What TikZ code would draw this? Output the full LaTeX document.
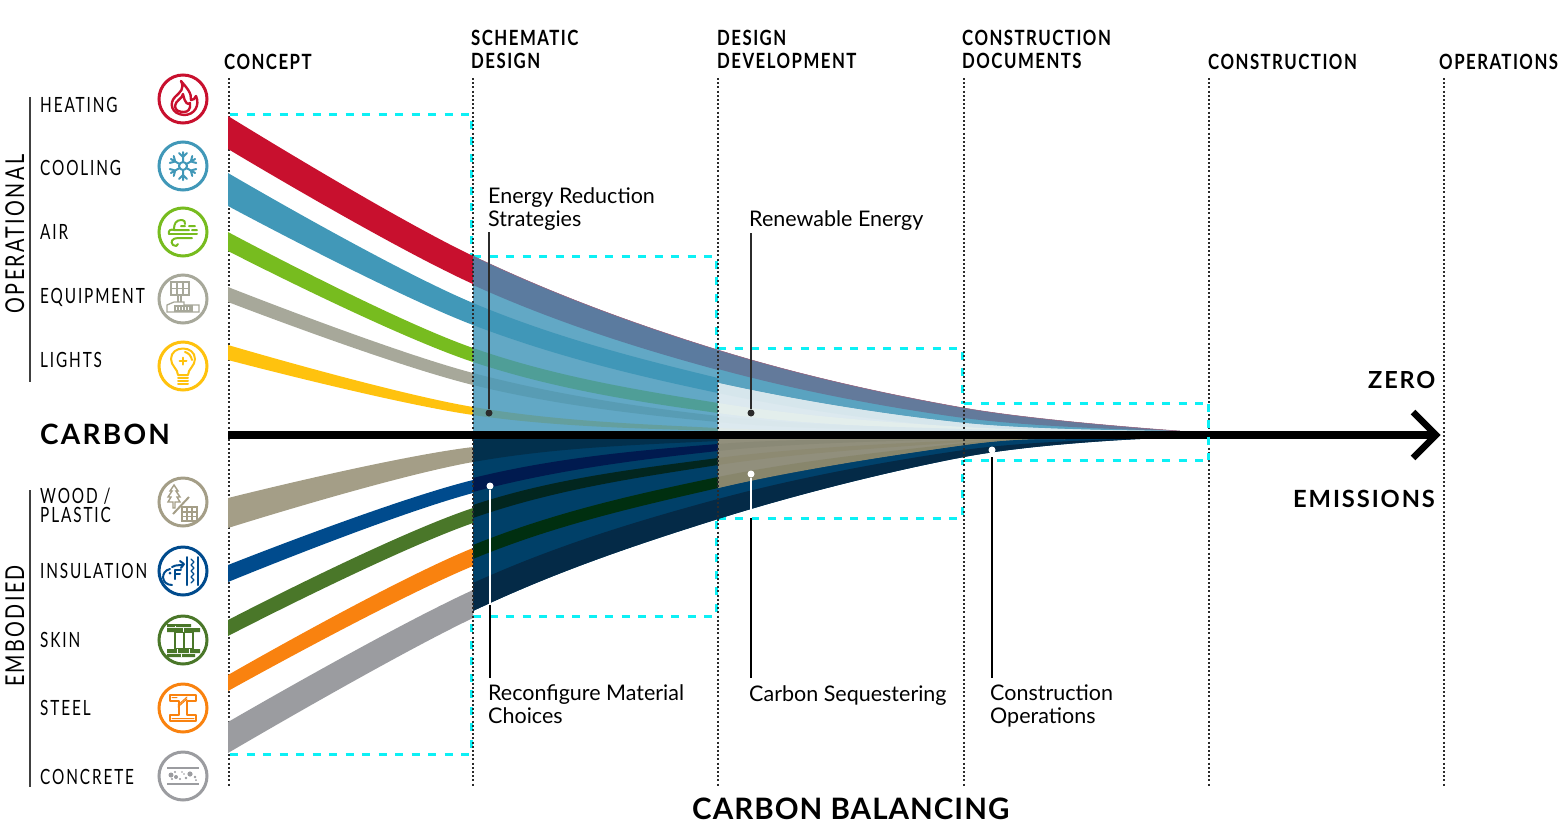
\documentclass[tikz,border=0pt]{standalone}
\usepackage{fontspec}
\setmainfont{Lato}
\newfontfamily\lab[FakeStretch=0.73,LetterSpace=9]{Lato}
\newfontfamily\sidef[FakeStretch=0.76,LetterSpace=9]{Lato}
\newfontfamily\head[FakeStretch=0.80,LetterSpace=7,BoldFont={Lato Bold}]{Lato}
\newfontfamily\bigf[LetterSpace=8,BoldFont={Lato Bold}]{Lato}
\newfontfamily\balf[LetterSpace=3.5,BoldFont={Lato Bold}]{Lato}
\definecolor{cRed}{HTML}{C8102E}\definecolor{cBlue}{HTML}{4198B8}\definecolor{cGreen}{HTML}{77BC1F}
\definecolor{cGrey}{HTML}{A7A89A}\definecolor{cYel}{HTML}{FFC20E}\definecolor{cWood}{HTML}{A49E87}
\definecolor{cIns}{HTML}{004B8D}\definecolor{cSkin}{HTML}{4A7729}\definecolor{cSteel}{HTML}{F9820F}
\definecolor{cConc}{HTML}{9B9CA0}\definecolor{cCyan}{HTML}{0CF0F5}\definecolor{cDark}{HTML}{2B2B2B}
\tikzset{
 hx/.code={\definecolor{tmpc}{HTML}{#1}\pgfkeysalso{/tikz/color=tmpc}},
 lbl/.style={anchor=base west,inner sep=0pt,font=\lab\fontsize{21}{21}\selectfont},
 hdr/.style={anchor=base west,inner sep=0pt,font=\head\bfseries\fontsize{21}{21}\selectfont},
 ttl/.style={anchor=base west,inner sep=0pt,font=\bigf\bfseries\fontsize{#1}{#1}\selectfont},
 bal/.style={anchor=base west,inner sep=0pt,font=\balf\bfseries\fontsize{29.5}{29.5}\selectfont},
 txt/.style={anchor=base west,inner sep=0pt,align=left,font=\fontsize{21.5}{22.6}\selectfont},
 side/.style={anchor=base,inner sep=0pt,rotate=90,font=\sidef\fontsize{26}{26}\selectfont},
 ring/.style={circle,draw=#1,line width=3pt,minimum size=48pt,inner sep=0pt},
 ico/.style={draw=#1,line width=2pt,line cap=round,line join=round},
 dotline/.style={draw=cDark,line width=1.5pt,dash pattern=on 2pt off 2.2pt},
 cyanbox/.style={draw=cCyan,line width=3pt,dash pattern=on 8pt off 8.5pt},
 rule/.style={draw=black!75,line width=1.2pt},
 dotd/.style={circle,fill=#1,inner sep=0pt,minimum size=7pt},
 call/.style={line width=1.6pt}
}
\newcommand\xe{1180}
% band: colour, five upper y, five lower y
\def\bndd#1#2,#3,#4,#5,#6,#7,#8,#9.{\def\ta{#2}\def\tb{#3}\def\tc{#4}\def\td{#5}\def\te{#6}\def\la{#7}\def\lb{#8}\bnde{#1}#9.}
\def\bnde#1#2,#3,#4.{\fill[#1] plot[smooth,tension=.6] coordinates {(228,\ta)(473,\tb)(718,\tc)(964,\td)(\xe,\te)}
  -- plot[smooth,tension=.6] coordinates {(\xe,#4)(964,#3)(718,#2)(473,\lb)(228,\la)} -- cycle;}
\begin{document}
\begin{tikzpicture}[x=1pt,y=-1pt]
\useasboundingbox (0,0) rectangle (1562,833);
% coordinates for axis, callouts and rules
\coordinate (axisA) at (228,435); \coordinate (axisB) at (1436,435);
\coordinate (headA) at (1413,412); \coordinate (headB) at (1413,458);
% vertical dotted phase lines
\foreach \n/\x in {p1/229,p5/1209,p6/1444}{\coordinate (\n t) at (\x,78); \coordinate (\n b) at (\x,787); \draw[dotline] (\n t) -- (\n b);}
% cyan boxes (behind the bands)
\draw[cyanbox] (230,114) -- (471,114) -- (471,256);
\draw[cyanbox] (230,754) -- (471,754) -- (471,616);
\draw[cyanbox] (473,256) -- (716,256) -- (716,349);
\draw[cyanbox] (473,616) -- (716,616) -- (716,518);
\draw[cyanbox] (718,348) -- (962,348) -- (962,404);
\draw[cyanbox] (718,518) -- (962,518) -- (962,460);
\draw[cyanbox] (964,403.5) -- (1208,403.5);
\draw[cyanbox] (964,460) -- (1208,460);
% ---------- bands: region A
\begin{scope}
\clip (228,0) rectangle (473,833);
\bndd{cRed}116,256,350,408,431,149,284,370,418,431.
\bndd{cBlue}173,303,378,422,431,206,325,393,428,431.
\bndd{cGreen}232,348,403,427,431,251,362,413,430,431.
\bndd{cGrey}287,373,416,429,431,302,385,422,431,431.
\bndd{cYel}345,407,428,431,431,360,415,431,431,431.
\bndd{cWood}498,447,439,439,439,528,462,441,439,439.
\bndd{cIns}565,480,444,439,439,582,493,451,439,439.
\bndd{cSkin}620,508,458,440,439,636,523,465,442,439.
\bndd{cSteel}675,548,477,443,439,691,566,488,446,439.
\bndd{cConc}722,590,499,450,439,753,618,519,457,439.
\end{scope}
% ---------- region B
\begin{scope}
\clip (473,0) rectangle (718,833);
\bndd{hx=62A8C5}116,256,350,408,431,431,431,431,431,431.
\bndd{hx=5B7B9F}116,256,350,408,431,149,285,370,418,431.
\bndd{hx=4097B8}173,303,378,422,431,206,325,393,428,431.
\bndd{hx=4F9E97}232,348,403,427,431,251,362,413,430,431.
\bndd{hx=589CB4}287,373,416,429,431,302,385,422,431,431.
\bndd{hx=649F9E}345,407,428,431,431,360,415,431,431,431.
\bndd{hx=004068}439,439,439,439,439,753,611,519,457,439.
\bndd{hx=02304D}498,440,439,439,439,528,462,441,439,439.
\bndd{hx=001A4F}565,478,444,439,439,582,492,451,439,439.
\bndd{hx=02261F}620,505,458,440,439,636,518,465,442,439.
\bndd{hx=002F10}675,545,477,443,439,691,559,488,446,439.
\bndd{hx=042A47}722,583,499,450,439,753,611,519,457,439.
\end{scope}
% ---------- region C
\begin{scope}
\clip (718,0) rectangle (1300,833);
\bndd{hx=5AA3C0}116,256,350,408,431,431,431,431,431,431.
\bndd{hx=637A9B}116,256,350,408,431,149,285,369,418,431.
\bndd{hx=DCE9EF}173,315,383,423,431,431,431,431,431,431.
\bndd{hx=D6E6EC}173,315,383,423,431,206,325,393,428,431.
\bndd{hx=E3EEEC}232,348,403,427,431,251,362,413,430,431.
\bndd{hx=D9E7EC}287,373,416,429,431,302,385,422,431,431.
\bndd{hx=E0EAE8}345,407,428,431,431,360,415,431,431,431.
\renewcommand\xe{1140}
\bndd{hx=00416B}439,439,439,439,439,753,611,519,457,439.
\bndd{hx=042A47}722,583,499,450,439,753,611,519,457,439.
\renewcommand\xe{1065}
\bndd{hx=918F7C}439,439,439,439,439,691,566,488,445,439.
\bndd{hx=8A8976}565,478,444,439,439,582,492,451,439,439.
\bndd{hx=8D8A72}620,505,458,440,439,636,518,465,442,439.
\bndd{hx=88866C}675,545,477,443,439,691,559,488,445,439.
\renewcommand\xe{1180}
\end{scope}
% thin top edge
\begin{scope}
\clip (473,0) rectangle (1180,833);
\draw[line width=.5pt,hx=A0607A] plot[smooth,tension=.6] coordinates {(228,116)(473,256)(718,350)(964,408)(1180,431)};
\end{scope}
% phase lines over the bands
\foreach \n/\x in {p2/473,p3/718,p4/964}{\coordinate (\n t) at (\x,78); \coordinate (\n b) at (\x,787); \draw[dotline] (\n t) -- (\n b);}
% axis
\draw[line width=8pt] (axisA) -- (axisB);
\draw[line width=6.5pt] (headA) -- (axisB) -- (headB);
\draw[cyanbox] (1208,403.5) -- (1208,460);
% rules
\coordinate (r1a) at (30,97); \coordinate (r1b) at (30,382); \coordinate (r2a) at (30,490); \coordinate (r2b) at (30,787);
\draw[rule] (r1a) -- (r1b); \draw[rule] (r2a) -- (r2b);
% headings
\node[hdr] (hConcept) at (224,69) {CONCEPT};
\node[hdr] (hSchem1) at (471,45) {SCHEMATIC};
\node[hdr] (hSchem2) at (471,68) {DESIGN};
\node[hdr] (hDev1) at (717,45) {DESIGN};
\node[hdr] (hDev2) at (717,68) {DEVELOPMENT};
\node[hdr] (hDoc1) at (962,45) {CONSTRUCTION};
\node[hdr] (hDoc2) at (962,68) {DOCUMENTS};
\node[hdr] (hCons) at (1208,69) {CONSTRUCTION};
\node[hdr] (hOps) at (1439,69) {OPERATIONS};
% side labels
\node[side] (sOp) at (24,234) {OPERATIONAL};
\node[side] (sEm) at (24,626) {EMBODIED};
\node[lbl] (lHeat) at (40,112) {HEATING};
\node[lbl] (lCool) at (40,175) {COOLING};
\node[lbl] (lAir) at (40,239) {AIR};
\node[lbl] (lEq) at (40,303) {EQUIPMENT};
\node[lbl] (lLi) at (40,367) {LIGHTS};
\node[lbl] (lWood) at (40,503) {WOOD /};
\node[lbl] (lPlas) at (40,522) {PLASTIC};
\node[lbl] (lIns) at (40,578) {INSULATION};
\node[lbl] (lSkin) at (40,647) {SKIN};
\node[lbl] (lSteel) at (40,715) {STEEL};
\node[lbl] (lConc) at (40,784) {CONCRETE};
\node[ttl=28] (tCarbon) at (40,444) {CARBON};
\node[ttl=23.5] (tZero) at (1368,388) {ZERO};
\node[ttl=23.7] (tEm) at (1293,507) {EMISSIONS};
\node[bal] (tBal) at (692,819) {CARBON BALANCING};
% callouts
\node[txt] (cEner) at (488,226) {Energy Reduction\\Strategies};
\node[txt] (cRen) at (749,226) {Renewable Energy};
\node[txt] (cRec) at (488,723) {Reconfigure Material\\Choices};
\node[txt] (cSeq) at (749,701) {Carbon Sequestering};
\node[txt] (cOps) at (990,723) {Construction\\Operations};
\node[dotd=cDark] (d1) at (489,413) {};
\node[dotd=cDark] (d2) at (751,413) {};
\node[dotd=white] (d3) at (490,486) {};
\node[dotd=white] (d4) at (751,474) {};
\node[dotd=white] (d5) at (992,450) {};
\coordinate (e1) at (489,232); \coordinate (e2) at (751,233);
\coordinate (e3) at (490,678); \coordinate (e4) at (751,678); \coordinate (e5) at (992,678);
\coordinate (m3) at (490,605); \coordinate (m4) at (751,518); \coordinate (m5) at (992,457);
\draw[call,cDark] (e1) -- (d1); \draw[call,cDark] (e2) -- (d2);
\draw[call,white] (d3) -- (m3); \draw[call] (m3) -- (e3);
\draw[call,white] (d4) -- (m4); \draw[call] (m4) -- (e4);
\draw[call,white] (d5) -- (m5); \draw[call] (m5) -- (e5);
% ---------- icons
\node[ring=cRed] (iHeat) at (183,99) {};
\begin{scope}[shift={(183,99)}]
\draw[ico=cRed,line width=2.4pt] (-2,-18) .. controls (2,-10) and (-3,-7) .. (-8,-2) .. controls (-14,4) and (-12,15) .. (1,16) .. controls (12,16) and (17,6) .. (13,-3) .. controls (12,0) and (10,1) .. (8,1) .. controls (9,-6) and (3,-12) .. (-2,-18) -- cycle;
\draw[ico=cRed,line width=2.4pt] (0,-5) .. controls (0,-1) and (-8,2) .. (-8,7) .. controls (-8,12) and (-3,13) .. (1,13) .. controls (5,13) and (8,10) .. (7,4) .. controls (5,6) and (2,5) .. (0,-5) -- cycle;
\end{scope}
\node[ring=cBlue] (iCool) at (183,166) {};
\begin{scope}[shift={(183,166)}]
\draw[ico=cBlue] (0,0) circle (4);
\foreach \a in {30,90,...,330}{\draw[ico=cBlue,rotate=\a] (4,0) -- (14,0) (9,0) -- (13,4) (9,0) -- (13,-4);}
\end{scope}
\node[ring=cGreen] (iAir) at (183,232) {};
\begin{scope}[shift={(183,232)}]
\draw[ico=cGreen] (-9,-3) .. controls (-9,-8) and (-7,-12) .. (-2,-12) .. controls (1,-12) and (3,-10) .. (2,-8);
\draw[ico=cGreen] (-14,2) .. controls (-15,-2) and (-12,-3) .. (-9,-2) -- (6,-2) (-2,-6) -- (2,-6) (6,-6) -- (12,-6) (9,-2) -- (14,-2);
\draw[ico=cGreen] (-14,2) -- (14,2);
\draw[ico=cGreen] (9,6) -- (-5,6) .. controls (-11,6) and (-13,10) .. (-10,13) .. controls (-8,15) and (-5,14) .. (-5,12);
\end{scope}
\node[ring=cGrey] (iEq) at (183,299) {};
\begin{scope}[shift={(183,299)},line width=1.3pt,hx=A7A89A]
\draw (-12,-17) rectangle (6,-4) (-6,-17) -- (-6,-4) (0,-17) -- (0,-4) (-12,-10.5) -- (6,-10.5);
\draw (-5,-4) -- (-5,3) (-2,-4) -- (-2,3);
\draw (-16,13) -- (-16,6) -- (-9,3) -- (1,3) -- (1,6) -- (16,6) -- (16,13) -- cycle;
\draw (-8,7) rectangle (9,12) (-5,7) -- (-5,12) (-2,7) -- (-2,12) (1,7) -- (1,12) (4,7) -- (4,12) (7,7) -- (7,12);
\end{scope}
\node[ring=cYel] (iLi) at (183,366) {};
\begin{scope}[shift={(183,366)}]
\draw[ico=cYel] (-5,9) .. controls (-5,3) and (-12,0) .. (-12,-7) .. controls (-12,-21) and (12,-21) .. (12,-7) .. controls (12,0) and (5,3) .. (5,9) -- cycle;
\draw[ico=cYel] (2,-14) .. controls (6,-13) and (8,-10) .. (9,-6);
\draw[ico=cYel] (-3.5,-5) -- (3.5,-5) (0,-8.5) -- (0,-1.5);
\draw[ico=cYel] (-5,12) -- (5,12) (-5,15) -- (5,15) (-5,18) -- (5,18);
\end{scope}
\node[ring=cWood] (iWood) at (183,502) {};
\begin{scope}[shift={(183,502)},line width=1.4pt,hx=A49E87]
\draw (-9,-17) -- (-5,-11) -- (-7,-11) -- (-3,-5) -- (-6,-5) -- (-3,0) -- (-8,0) -- (-8,6) -- (-10,6) -- (-10,0) -- (-15,0) -- (-12,-5) -- (-15,-5) -- (-11,-11) -- (-13,-11) -- cycle;
\draw[line width=2pt] (-10,12) -- (6,-5);
\draw[line width=1.8pt] (-1,5) rectangle (14,19);
\draw (-1,10) -- (14,10) (-1,14.5) -- (14,14.5) (4,5) -- (4,10) (9,5) -- (9,19) (4,10) -- (4,19);
\end{scope}
\node[ring=cIns] (iIns) at (183,571) {};
\begin{scope}[shift={(183,571)}]
\draw[ico=cIns] (-13,-2) .. controls (-23,0) and (-22,14) .. (-11,14);
\draw[ico=cIns] (-11,-4) .. controls (-6,-7) and (-3,-5) .. (0,-6) (-3,-10) -- (1,-7) -- (-2,-3);
\draw[ico=cIns] (-8,8) -- (-8,-1) -- (-2,-1) (-8,3) -- (-3,3);
\fill[cIns] (-13,2) circle (1.5);
\draw[ico=cIns] (4,-14) -- (4,14) (15,-14) -- (15,14);
\draw[ico=cIns,line width=1.3pt] (8,-12) -- (11,-9) -- (8,-6) -- (11,-3) -- (8,0) -- (11,3) -- (8,6) -- (11,9) -- (8,12);
\end{scope}
\node[ring=cSkin] (iSkin) at (183,640) {};
\begin{scope}[shift={(183,640)},cSkin]
\fill (-16,-16) rectangle (8,-13) (-16,-12) rectangle (17,-8) (-16,9) rectangle (17,13) (-16,14) rectangle (12,17);
\draw[line width=2.6pt] (-8,-8) rectangle (10,9) (1,-8) -- (1,9);
\draw[white,line width=.7pt] (-8,-14.5) -- (-8,-13) (0,-12) -- (0,-8) (-6,9) -- (-6,13) (6,9) -- (6,13) (-2,14) -- (-2,17);
\end{scope}
\node[ring=cSteel] (iSteel) at (183,708) {};
\begin{scope}[shift={(183,708)}]
\draw[ico=cSteel] (-13,-13) -- (13,-13) -- (13,-7) -- (4,-7) -- (4,7) -- (13,7) -- (13,13) -- (-13,13) -- (-13,7) -- (-4,7) -- (-4,-7) -- (-13,-7) -- cycle;
\draw[ico=cSteel,line width=1pt] (-5,-3) -- (4,-11) (-5,-1) -- (4,-9) (-11,10.5) -- (11,10.5) (-11,-10.5) -- (-6,-10.5);
\end{scope}
\node[ring=cConc] (iConc) at (183,776) {};
\begin{scope}[shift={(183,776)},cConc]
\draw[line width=1.8pt] (-16,-8) -- (16,-8) (-16,8) -- (16,8);
\fill (-12,-1) circle (2.5) (-7,1) circle (2) (-8,-4) circle (1.2) (-3,3) circle (1.2) (7,-2) circle (2.6) (3,2) circle (1.4) (12,1) circle (1.3) (13,4) circle (1) (-1,-4) circle (.9) (1,-2) circle (.9) (-11,3) circle (1.2);
\end{scope}
\end{tikzpicture}
\end{document}
